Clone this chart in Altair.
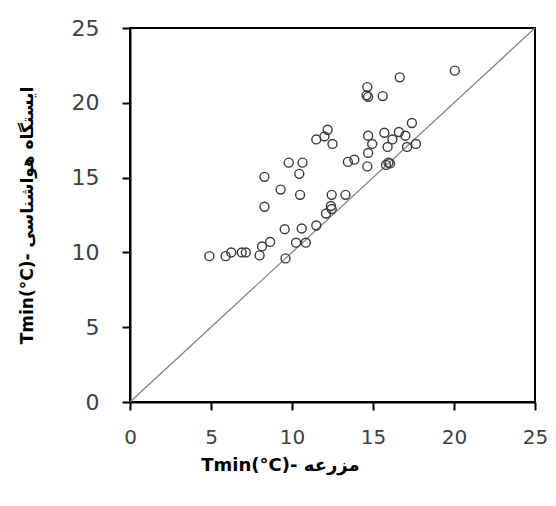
import altair as alt
import pandas as pd

# Farm Tmin (x) vs weather-station Tmin (y), °C
farm_tmin = [4.9, 5.9, 6.25, 6.9, 7.15, 8.0, 8.15, 8.65, 9.6, 10.25,
             10.85, 9.55, 10.6, 11.5, 12.1, 12.4, 12.45, 12.45, 13.3, 8.3,
             8.3, 9.3, 10.5, 9.8, 10.65, 10.45, 11.5, 12.0, 12.2, 12.5,
             13.45, 13.85, 14.65, 14.7, 14.95, 14.7, 15.7, 15.9, 16.2, 16.6,
             17.0, 17.1, 17.65, 17.4, 15.8, 15.95, 16.05, 14.65, 14.6, 14.7,
             15.6, 16.65, 20.05]
station_tmin = [9.75, 9.75, 10.0, 10.0, 10.0, 9.8, 10.4, 10.7, 9.6, 10.65,
                10.65, 11.55, 11.6, 11.8, 12.6, 13.1, 12.9, 13.85, 13.85, 13.05,
                15.05, 14.2, 13.85, 16.0, 16.0, 15.25, 17.55, 17.75, 18.2, 17.25,
                16.05, 16.2, 15.75, 16.65, 17.25, 17.8, 18.0, 17.05, 17.55, 18.05,
                17.8, 17.05, 17.25, 18.65, 15.85, 16.0, 15.95, 21.05, 20.5, 20.4,
                20.45, 21.7, 22.15]

line_x = [0, 25]
line_y = [0, 25]

x_ticks = [0, 5, 10, 15, 20, 25]
y_ticks = [0, 5, 10, 15, 20, 25]

pts = pd.DataFrame({"farm": farm_tmin, "station": station_tmin})
ref = pd.DataFrame({"farm": line_x, "station": line_y})

x_enc = alt.X("farm:Q",
              scale=alt.Scale(domain=[0, 25], nice=False),
              axis=alt.Axis(values=x_ticks, title="Tmin(°C)- مزرعه",
                            grid=False, titleX=150, titleY=63,
                            titleBaseline="middle", titleAlign="center",
                            labelPadding=17, labelFontSize=20,
                            labelFlush=False, labelOverlap=False))
y_enc = alt.Y("station:Q",
              scale=alt.Scale(domain=[0, 25], nice=False),
              axis=alt.Axis(values=y_ticks, title="Tmin(°C)- ایستگاه هواشناسی",
                            grid=False, titleX=-103, titleY=187,
                            titleAngle=-90, titleBaseline="middle",
                            titleAlign="center", labelPadding=23,
                            labelFontSize=22, titleFontSize=17,
                            labelFlush=False, labelOverlap=False))

line = alt.Chart(ref).mark_line(color="#808080", strokeWidth=1.2).encode(
    x=x_enc, y=y_enc)

points = alt.Chart(pts).mark_point(
    shape="circle", filled=False, size=80, stroke="#3a3a3a",
    strokeWidth=1.4, opacity=1).encode(x=x_enc, y=y_enc)

chart = (line + points).properties(
    width=405, height=374,
    autosize=alt.AutoSizeParams(type="none"),
    padding={"left": 122, "top": 20, "right": 13, "bottom": 90},
).configure_view(
    stroke="black", strokeWidth=2
).configure_axis(
    domainColor="black", domainWidth=2,
    tickColor="black", tickWidth=2, tickSize=8,
    labelColor="#404040", labelFont="DejaVu Sans",
    titleColor="black", titleFont="DejaVu Sans", titleFontWeight="bold",
    titleFontSize=18,
)

chart.save("out.html", embed_options={"renderer": "svg", "actions": False})
